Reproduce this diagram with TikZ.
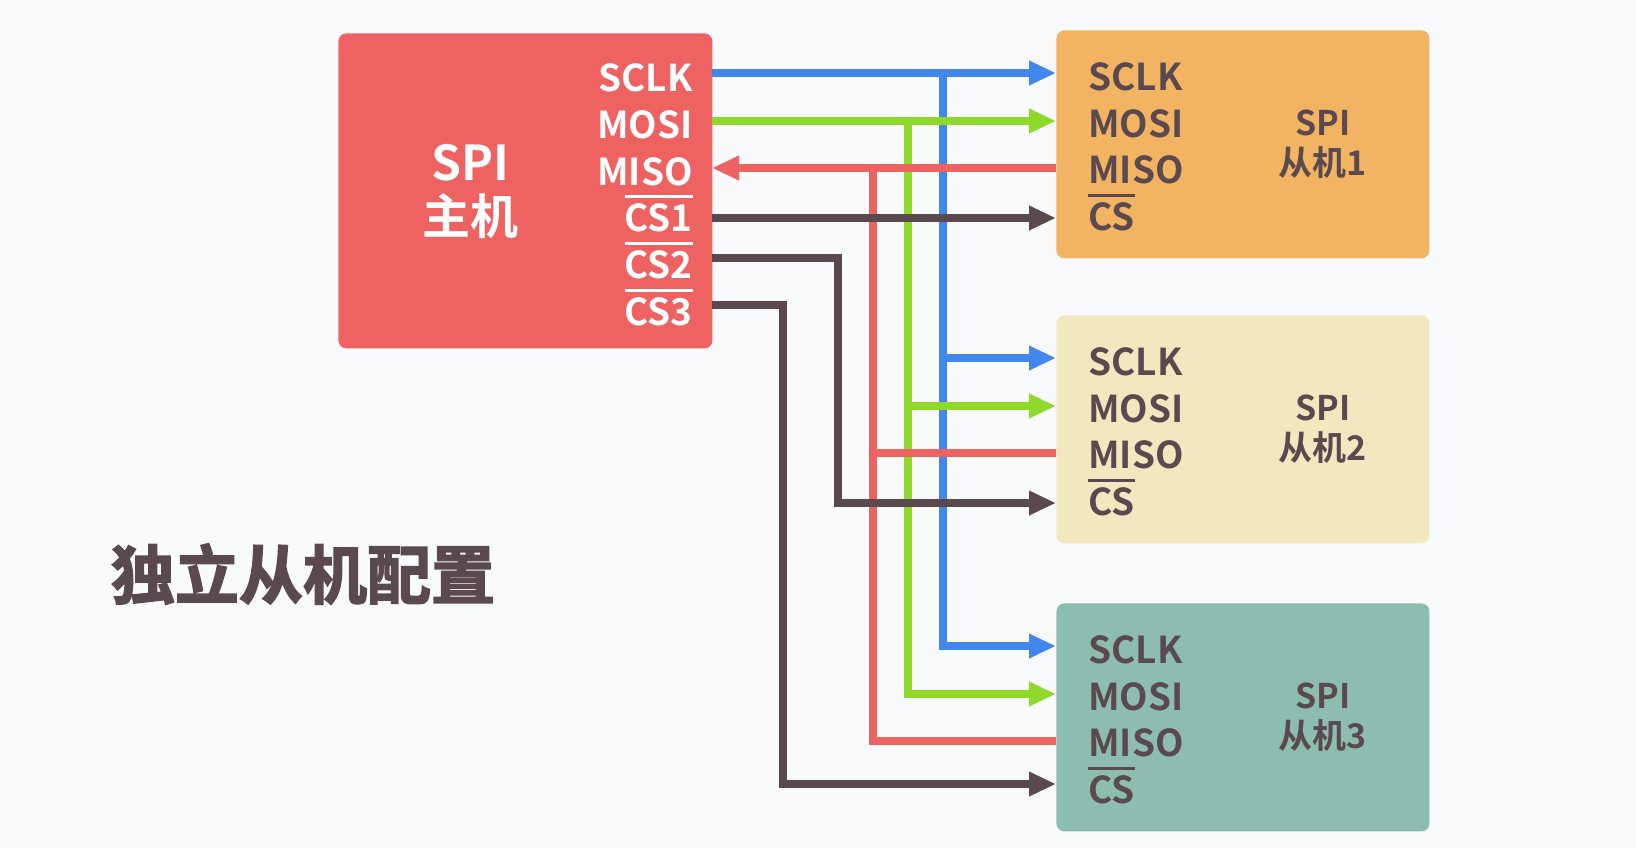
\documentclass[tikz,border=0pt]{standalone}
\usepackage{fontspec}
\setmainfont{Noto Sans CJK SC}[BoldFont={Noto Sans CJK SC Bold}]
\newfontfamily\heavyfont{Noto Sans CJK SC Bold}[FakeBold=2.5]
\usetikzlibrary{arrows.meta}
\definecolor{bgc}{RGB}{248,250,252}
\definecolor{mred}{RGB}{239,98,98}
\definecolor{sorange}{RGB}{242,180,98}
\definecolor{scream}{RGB}{242,232,192}
\definecolor{steal}{RGB}{140,189,176}
\definecolor{lblue}{RGB}{66,135,238}
\definecolor{lgreen}{RGB}{142,217,42}
\definecolor{ldark}{RGB}{90,74,79}
\newcommand{\nbar}[1]{\vbox{\hrule height 1.5pt\kern 2.5pt\hbox{#1}}}
\begin{document}
\begin{tikzpicture}[x=0.5pt, y=-0.5pt, >={Triangle[length=13.5pt,width=11.5pt]},
    box/.style={rounded corners=4pt, inner sep=0pt, anchor=north west},
    pin/.style={inner sep=0pt, font=\fontsize{18.5pt}{20pt}\selectfont\bfseries},
    wire/.style={line width=4pt}]
	% 背景
	\fill[bgc] (0,0) rectangle (1636,848);
	\useasboundingbox (0,0) rectangle (1636,848);
	
	% 主机
	\node[box, fill=mred, minimum width=187pt, minimum height=157.5pt] (master) at (338,33) {};
	\node[white, inner sep=0pt, align=center, font=\fontsize{24pt}{27pt}\selectfont\bfseries] (mname) at (470,192) {SPI\\主机};
	\foreach \txt/\nm/\y in {SCLK/sclk/91, MOSI/mosi/138, MISO/miso/185, \nbar{CS1}/cs1/231, \nbar{CS2}/cs2/278, \nbar{CS3}/cs3/325}
		\node[pin, white, anchor=base east] (mp-\nm) at (693,\y) {\txt};
	\coordinate (m-sclk) at (712,73);
	\coordinate (m-mosi) at (712,121);
	\coordinate (m-miso) at (712,168);
	\coordinate (m-cs1) at (712,218);
	\coordinate (m-cs2) at (712,258);
	\coordinate (m-cs3) at (712,305);
	
	% 从机
	\foreach \i/\ty/\col/\cy in {1/30/sorange/188, 2/315/scream/188, 3/603/steal/181} {
		\node[box, fill=\col, minimum width=186.5pt, minimum height=114pt] (s\i) at (1056,\ty) {};
		\node[pin, ldark, anchor=base west] (sp\i-sclk) at (1088,\ty+60) {SCLK};
		\node[pin, ldark, anchor=base west] (sp\i-mosi) at (1088,\ty+107) {MOSI};
		\node[pin, ldark, anchor=base west] (sp\i-miso) at (1088,\ty+153) {MISO};
		\node[pin, ldark, anchor=base west] (sp\i-cs) at (1088,\ty+200) {\nbar{CS}};
		\node[ldark, inner sep=0pt, align=center, font=\fontsize{17pt}{20pt}\selectfont\bfseries] (sname\i) at (1323,\ty+114) {SPI\\从机\i};
		\coordinate (s\i-sclk) at (1056,\ty+43);
		\coordinate (s\i-mosi) at (1056,\ty+91);
		\coordinate (s\i-miso) at (1056,\ty+138);
		\coordinate (s\i-cs) at (1056,\ty+\cy);
	}
	
	% 标题
	\node[ldark, inner sep=0pt, font=\fontsize{32pt}{34pt}\heavyfont] (title) at (303,574) {独立从机配置};
	
	% 总线
	\coordinate (bus-sclk) at (943,73);
	\coordinate (bus-mosi) at (908,121);
	\coordinate (bus-miso) at (873,168);
	\draw[wire, lblue, ->] (bus-sclk) |- (s3-sclk);
	\draw[wire, lgreen, ->] (bus-mosi) |- (s3-mosi);
	\draw[wire, mred] (bus-miso) |- (s3-miso);
	
	% 片选线
	\coordinate (bend-cs2) at (838,258);
	\coordinate (bend-cs3) at (783,305);
	\draw[wire, ldark, ->] (m-cs3) -- (bend-cs3) |- (s3-cs);
	\draw[wire, ldark, ->] (m-cs2) -- (bend-cs2) |- (s2-cs);
	
	% 水平线
	\draw[wire, lblue, ->] (m-sclk) -- (s1-sclk);
	\draw[wire, lgreen, ->] (m-mosi) -- (s1-mosi);
	\draw[wire, mred, ->] (s1-miso) -- (m-miso);
	\draw[wire, ldark, ->] (m-cs1) -- (s1-cs);
	\draw[wire, lblue, ->] (bus-sclk |- s2-sclk) -- (s2-sclk);
	\draw[wire, lgreen, ->] (bus-mosi |- s2-mosi) -- (s2-mosi);
	\draw[wire, mred] (s2-miso) -- (bus-miso |- s2-miso);
\end{tikzpicture}
\end{document}
